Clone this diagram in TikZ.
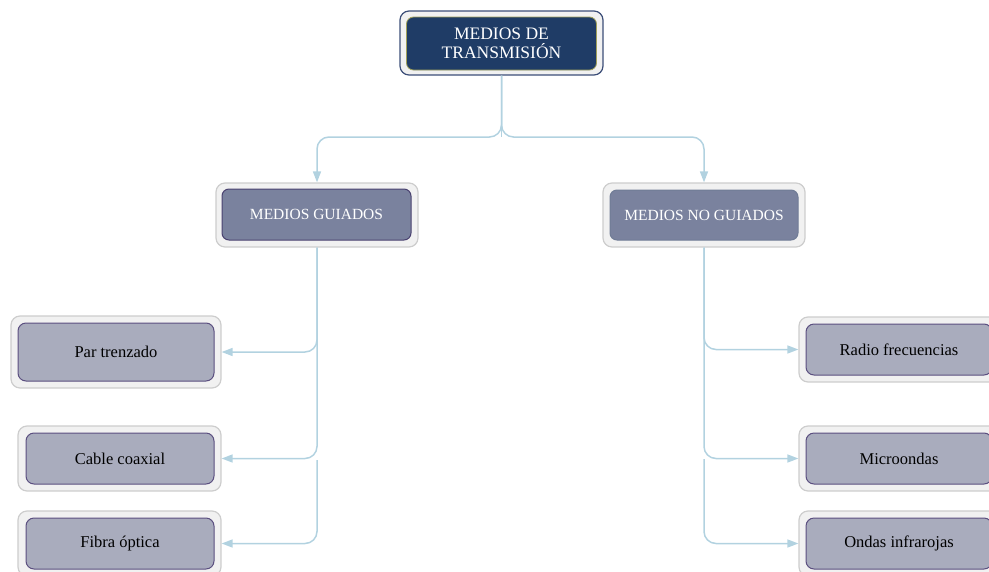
\documentclass[tikz,border=0pt]{standalone}
\usepackage{fontspec}
\setmainfont{Liberation Serif}
\usetikzlibrary{arrows.meta}
\definecolor{conn}{RGB}{178,210,224}
\definecolor{framefill}{RGB}{241,241,241}
\definecolor{frameline}{RGB}{205,205,205}
\definecolor{topframeline}{RGB}{60,78,120}
\definecolor{topfill}{RGB}{31,60,102}
\definecolor{topinline}{RGB}{160,160,90}
\definecolor{midfill}{RGB}{122,130,158}
\definecolor{midline}{RGB}{74,66,112}
\definecolor{midline2}{RGB}{112,124,150}
\definecolor{leaffill}{RGB}{169,172,189}
\definecolor{leafline}{RGB}{91,79,128}
\tikzset{
  frame/.style={draw=frameline, fill=framefill, line width=1.2pt, rounded corners=9pt, inner sep=0pt},
  topframe/.style={draw=topframeline, fill=framefill, line width=1.2pt, rounded corners=9pt, inner sep=0pt},
  topbox/.style={draw=topinline, fill=topfill, line width=0.8pt, rounded corners=7pt, inner sep=0pt,
    text=white, align=center, font=\fontsize{17.5}{19}\selectfont},
  midbox/.style={draw=midline, fill=midfill, line width=1pt, rounded corners=7pt, inner sep=0pt,
    text=white, font=\fontsize{15.5}{18}\selectfont},
  leafbox/.style={draw=leafline, fill=leaffill, line width=1pt, rounded corners=8pt, inner sep=0pt,
    text=black, font=\fontsize{16.5}{19}\selectfont},
  link/.style={draw=conn, line width=1.5pt, rounded corners=12pt,
    -{Triangle[length=11pt,width=8pt,fill=conn]}},
  plain/.style={draw=conn, line width=1.5pt, rounded corners=12pt},
}
\begin{document}
\begin{tikzpicture}[x=1pt,y=-1pt]
\useasboundingbox (0,0) rectangle (989,571);
\clip (0,0) rectangle (989,571);
% top
\node[topframe, minimum width=203pt, minimum height=64pt] (topf) at (501.5,43) {};
\node[topbox, minimum width=190pt, minimum height=53pt] (top) at (501.5,43.5) {MEDIOS DE\\TRANSMISIÓN};
% middle
\node[frame, minimum width=202pt, minimum height=64pt] (mgf) at (317,215) {};
\node[midbox, minimum width=189pt, minimum height=51pt] (mg) at (316.5,214.5) {MEDIOS GUIADOS};
\node[frame, minimum width=202pt, minimum height=64pt] (mngf) at (704,215) {};
\node[midbox, draw=midline2, minimum width=188pt, minimum height=50pt] (mng) at (704,215) {MEDIOS NO GUIADOS};
% left leaves
\node[frame, minimum width=210pt, minimum height=72pt] (ptf) at (116,352) {};
\node[leafbox, minimum width=196pt, minimum height=58pt] (pt) at (116,352) {Par trenzado};
\node[frame, minimum width=203pt, minimum height=65pt] (ccf) at (119.5,458.5) {};
\node[leafbox, minimum width=188pt, minimum height=51pt] (cc) at (120,458.5) {Cable coaxial};
\node[frame, minimum width=203pt, minimum height=65pt] (fof) at (119.5,543.5) {};
\node[leafbox, minimum width=188pt, minimum height=51pt] (fo) at (120,543.5) {Fibra óptica};
% right leaves
\node[frame, minimum width=200pt, minimum height=65pt] (rff) at (899,349.5) {};
\node[leafbox, minimum width=186pt, minimum height=51pt] (rf) at (899,349.5) {Radio frecuencias};
\node[frame, minimum width=200pt, minimum height=65pt] (mof) at (899,458.5) {};
\node[leafbox, minimum width=186pt, minimum height=51pt] (mo) at (899,458.5) {Microondas};
\node[frame, minimum width=200pt, minimum height=65pt] (oif) at (899,543.5) {};
\node[leafbox, minimum width=186pt, minimum height=51pt] (oi) at (899,543.5) {Ondas infrarojas};
% connectors
\coordinate (split) at (501.5,137);
\draw[plain] (topf.south) -- (split);
\draw[link] (topf.south) |- (split) -| (mgf.north);
\draw[link] (topf.south) |- (split) -| (mngf.north);
\draw[link] (mgf.south) |- (ptf.east);
\draw[link] (mgf.south) |- (ccf.east);
\coordinate (fstart) at (317,460);
\draw[link] (fstart) |- (fof.east);
\draw[link] (mngf.south) |- (rff.west);
\draw[link] (mngf.south) |- (mof.west);
\coordinate (ostart) at (704,459);
\draw[link] (ostart) |- (oif.west);
\end{tikzpicture}
\end{document}
